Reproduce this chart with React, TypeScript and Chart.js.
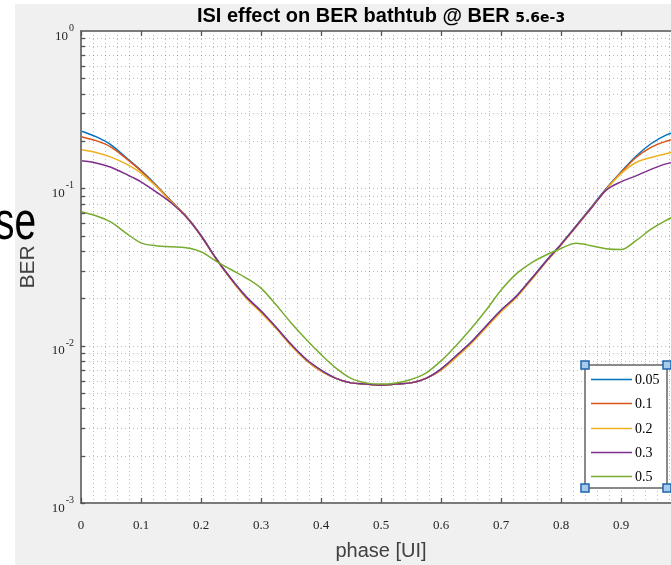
import React, { useEffect, useRef } from "react";
import { Chart, registerables } from "chart.js";

Chart.register(...registerables);

// ---- data ----
const phase = [
  0, 0.025, 0.05, 0.075, 0.1, 0.125, 0.15, 0.175, 0.2, 0.225, 0.25, 0.275, 0.3, 0.325, 0.35, 0.375, 0.4,
  0.425, 0.45, 0.475, 0.5, 0.525, 0.55, 0.575, 0.6, 0.625, 0.65, 0.675, 0.7, 0.725, 0.75, 0.775, 0.8,
  0.825, 0.85, 0.875, 0.9, 0.925, 0.95, 0.975, 1.0,
];

const ber005 = [
  0.232, 0.213, 0.189, 0.157, 0.13, 0.105, 0.083, 0.0667, 0.0503, 0.036, 0.0267, 0.0205, 0.0166, 0.0131,
  0.0102, 0.0082, 0.007, 0.0062, 0.0058, 0.0057, 0.0056, 0.0057, 0.0058, 0.0062, 0.0071, 0.0086, 0.0105,
  0.0133, 0.0168, 0.0205, 0.0265, 0.0345, 0.0442, 0.0577, 0.0755, 0.0995, 0.127, 0.16, 0.192, 0.218, 0.232,
];
const ber01 = [
  0.213, 0.201, 0.183, 0.155, 0.129, 0.104, 0.083, 0.0665, 0.05, 0.0358, 0.0265, 0.0203, 0.0164, 0.013,
  0.0101, 0.0081, 0.0069, 0.0062, 0.0058, 0.0057, 0.0056, 0.0057, 0.0058, 0.0062, 0.007, 0.0085, 0.0104,
  0.0131, 0.0166, 0.0203, 0.0262, 0.0342, 0.0438, 0.0572, 0.075, 0.0985, 0.126, 0.157, 0.182, 0.199, 0.212,
];
const ber02 = [
  0.176, 0.169, 0.158, 0.143, 0.125, 0.103, 0.082, 0.0662, 0.0498, 0.0356, 0.0263, 0.0201, 0.0162, 0.0129,
  0.01, 0.0081, 0.0069, 0.0062, 0.0058, 0.0057, 0.0056, 0.0057, 0.0058, 0.0062, 0.007, 0.0084, 0.0103,
  0.013, 0.0164, 0.0201, 0.026, 0.034, 0.0435, 0.0568, 0.0745, 0.098, 0.124, 0.146, 0.157, 0.166, 0.175,
];
const ber03 = [
  0.15, 0.145, 0.136, 0.123, 0.11, 0.095, 0.081, 0.066, 0.05, 0.0358, 0.0266, 0.0205, 0.0166, 0.0131,
  0.0102, 0.0082, 0.007, 0.0062, 0.0058, 0.0057, 0.0056, 0.0057, 0.0058, 0.0062, 0.0071, 0.0086, 0.0105,
  0.0133, 0.0168, 0.0205, 0.0264, 0.0343, 0.044, 0.0572, 0.0745, 0.097, 0.11, 0.12, 0.132, 0.143, 0.15,
];
const ber05 = [
  0.071, 0.067, 0.061, 0.052, 0.045, 0.0432, 0.0425, 0.0419, 0.0395, 0.0345, 0.0305, 0.027, 0.0232, 0.0182,
  0.014, 0.011, 0.0088, 0.0072, 0.0062, 0.0058, 0.0057, 0.0058, 0.0061, 0.0067, 0.008, 0.01, 0.0128,
  0.0168, 0.0225, 0.0285, 0.0335, 0.0377, 0.0415, 0.0447, 0.0432, 0.0413, 0.0408, 0.0465, 0.055, 0.0625, 0.07,
];

const seriesLabels = ["0.05", "0.1", "0.2", "0.3", "0.5"];
const seriesValues = [ber005, ber01, ber02, ber03, ber05];
const seriesColors = ["#0072BD", "#D95319", "#EDB120", "#7E2F8E", "#77AC30"];

const xTickValues = [0, 0.1, 0.2, 0.3, 0.4, 0.5, 0.6, 0.7, 0.8, 0.9, 1];
const xTickLabels = ["0", "0.1", "0.2", "0.3", "0.4", "0.5", "0.6", "0.7", "0.8", "0.9", "1"];
const yDecadeExps = [0, -1, -2, -3];
const yTickBase = "10";
const yTickExpLabels = ["0", "-1", "-2", "-3"];

const titleMain = "ISI effect on BER bathtub @ BER ";
const titleValue = "5.6e-3";
const xAxisTitle = "phase [UI]";
const yAxisTitle = "BER";
const overlayText = "se";

const SANS = '"Liberation Sans", Arial, sans-serif';
const SERIF = '"Liberation Serif", "Times New Roman", serif';

const matlabPlugin = {
  id: "matlabLook",
  beforeDraw(chart: any) {
    const { ctx, chartArea: a, width, height } = chart;
    const xs = chart.scales.x;
    const ys = chart.scales.y;
    ctx.save();
    ctx.fillStyle = "#ffffff";
    ctx.fillRect(0, 0, width, height);
    ctx.fillStyle = "#f0f0f0";
    ctx.fillRect(15, 4, width - 15, height - 4);
    ctx.fillStyle = "#ffffff";
    ctx.fillRect(a.left, a.top, a.right - a.left, a.bottom - a.top);

    // dotted grid
    ctx.strokeStyle = "rgba(60,60,60,0.35)";
    ctx.lineWidth = 1;
    ctx.setLineDash([1, 3]);
    for (let i = 1; i < 50; i++) {
      const px = Math.round(xs.getPixelForValue(i * 0.02)) + 0.5;
      ctx.beginPath();
      ctx.moveTo(px, a.top);
      ctx.lineTo(px, a.bottom);
      ctx.stroke();
    }
    for (let d = -3; d < 0; d++) {
      for (let m = 1; m <= 9; m++) {
        if (d === -3 && m === 1) continue;
        const py = Math.round(ys.getPixelForValue(m * Math.pow(10, d))) + 0.5;
        ctx.beginPath();
        ctx.moveTo(a.left, py);
        ctx.lineTo(a.right, py);
        ctx.stroke();
      }
    }
    ctx.restore();
  },
  afterDatasetsDraw(chart: any) {
    const { ctx, chartArea: a } = chart;
    const xs = chart.scales.x;
    const ys = chart.scales.y;
    ctx.save();
    ctx.setLineDash([]);
    ctx.strokeStyle = "#7a7a7a";
    ctx.lineWidth = 2;
    ctx.beginPath();
    ctx.moveTo(a.right + 2, a.top);
    ctx.lineTo(a.left, a.top);
    ctx.lineTo(a.left, a.bottom);
    ctx.lineTo(a.right + 2, a.bottom);
    ctx.stroke();
    // ticks
    ctx.strokeStyle = "#555";
    ctx.lineWidth = 1.3;
    xTickValues.forEach((v) => {
      const px = Math.round(xs.getPixelForValue(v)) + 0.5;
      ctx.beginPath();
      ctx.moveTo(px, a.bottom);
      ctx.lineTo(px, a.bottom - 5);
      ctx.moveTo(px, a.top);
      ctx.lineTo(px, a.top + 5);
      ctx.stroke();
    });
    for (let d = -3; d < 0; d++) {
      for (let m = 1; m <= 9; m++) {
        const py = Math.round(ys.getPixelForValue(m * Math.pow(10, d))) + 0.5;
        ctx.beginPath();
        ctx.moveTo(a.left, py);
        ctx.lineTo(a.left + 4, py);
        ctx.stroke();
      }
    }
    ctx.restore();
  },
  afterDraw(chart: any) {
    const { ctx, chartArea: a } = chart;
    const xs = chart.scales.x;
    const ys = chart.scales.y;
    ctx.save();
    ctx.setLineDash([]);
    ctx.textBaseline = "alphabetic";

    // y tick labels (10 with superscript)
    yDecadeExps.forEach((e, i) => {
      const py = ys.getPixelForValue(Math.pow(10, e));
      ctx.font = `10px ${SERIF}`;
      const sup = yTickExpLabels[i];
      const sw = ctx.measureText(sup).width;
      ctx.fillStyle = "#262626";
      ctx.textAlign = "left";
      const right = 74;
      ctx.fillText(sup, right - sw, py);
      ctx.font = `13px ${SERIF}`;
      ctx.textAlign = "right";
      ctx.fillText(yTickBase, right - sw - 1, py + 8.5);
    });

    // x tick labels
    ctx.font = `13px ${SERIF}`;
    ctx.textAlign = "center";
    ctx.fillStyle = "#262626";
    xTickValues.forEach((v, i) => {
      const px = xs.getPixelForValue(v);
      ctx.fillText(xTickLabels[i], px, 529);
    });

    // x axis title
    ctx.font = `20px ${SANS}`;
    ctx.fillStyle = "#404040";
    ctx.textAlign = "center";
    ctx.fillText(xAxisTitle, (a.left + a.right) / 2, 557);

    // y axis title
    ctx.save();
    ctx.font = `21px ${SANS}`;
    ctx.translate(34, (a.top + a.bottom) / 2);
    ctx.rotate(-Math.PI / 2);
    ctx.textAlign = "center";
    ctx.fillText(yAxisTitle, 0, 0);
    ctx.restore();

    // title
    ctx.fillStyle = "#000";
    ctx.font = `bold 20px ${SANS}`;
    const w1 = ctx.measureText(titleMain).width;
    ctx.font = `bold 14px "DejaVu Sans", sans-serif`;
    const w2 = ctx.measureText(titleValue).width;
    const tx = (a.left + a.right) / 2 - (w1 + w2) / 2;
    ctx.textAlign = "left";
    ctx.font = `bold 20px ${SANS}`;
    ctx.fillText(titleMain, tx, 22);
    ctx.font = `bold 14px "DejaVu Sans", sans-serif`;
    ctx.fillText(titleValue, tx + w1, 22);

    // legend
    const lx0 = 585, ly0 = 365, lx1 = 667, ly1 = 488;
    ctx.fillStyle = "#fff";
    ctx.fillRect(lx0, ly0, lx1 - lx0, ly1 - ly0);
    ctx.strokeStyle = "#8a8a8a";
    ctx.lineWidth = 2;
    ctx.strokeRect(lx0, ly0, lx1 - lx0, ly1 - ly0);
    const rows = [379, 403, 428, 452, 476];
    chart.data.datasets.forEach((ds: any, i: number) => {
      const y = rows[i];
      ctx.strokeStyle = ds.borderColor;
      ctx.lineWidth = 1.5;
      ctx.beginPath();
      ctx.moveTo(591, y + 0.5);
      ctx.lineTo(632, y + 0.5);
      ctx.stroke();
      ctx.fillStyle = "#000";
      ctx.font = `14px ${SERIF}`;
      ctx.textAlign = "left";
      ctx.fillText(ds.label, 635, y + 5);
    });
    // selection handles
    [[lx0, ly0], [lx1, ly0], [lx0, ly1], [lx1, ly1]].forEach(([hx, hy]) => {
      ctx.fillStyle = "#a9cbeb";
      ctx.strokeStyle = "#1f63ad";
      ctx.lineWidth = 1.5;
      ctx.fillRect(hx - 4, hy - 4, 8, 8);
      ctx.strokeRect(hx - 4, hy - 4, 8, 8);
    });

    // overlay text
    ctx.save();
    ctx.fillStyle = "#000";
    ctx.font = `54px ${SANS}`;
    ctx.textAlign = "right";
    ctx.translate(36, 239);
    ctx.scale(0.72, 1);
    ctx.fillText(overlayText, 0, 0);
    ctx.restore();
    ctx.restore();
  },
};

export default function App() {
  const ref = useRef<HTMLCanvasElement | null>(null);
  useEffect(() => {
    if (!ref.current) return;
    const datasets = seriesValues.map((vals, i) => ({
      label: seriesLabels[i],
      data: phase.map((p, j) => ({ x: p, y: vals[j] })),
      borderColor: seriesColors[i],
      backgroundColor: seriesColors[i],
      borderWidth: 1.5,
      pointRadius: 0,
      fill: false,
      cubicInterpolationMode: "monotone" as const,
      order: seriesValues.length - i,
    }));
    const chart = new Chart(ref.current, {
      type: "line",
      data: { datasets },
      options: {
        animation: false,
        responsive: false,
        devicePixelRatio: 1,
        layout: { padding: { left: 81, top: 31, right: 19, bottom: 62 } },
        plugins: { legend: { display: false }, tooltip: { enabled: false }, title: { display: false } },
        scales: {
          x: { type: "linear", min: 0, max: 1, display: false },
          y: { type: "logarithmic", min: 0.001, max: 1, display: false },
        },
      },
      plugins: [matlabPlugin],
    });
    return () => chart.destroy();
  }, []);
  return (
    <div style={{ position: "absolute", left: 0, top: 0, width: 671, height: 565, overflow: "hidden" }}>
      <canvas ref={ref} width={700} height={565} style={{ display: "block" }} />
    </div>
  );
}
